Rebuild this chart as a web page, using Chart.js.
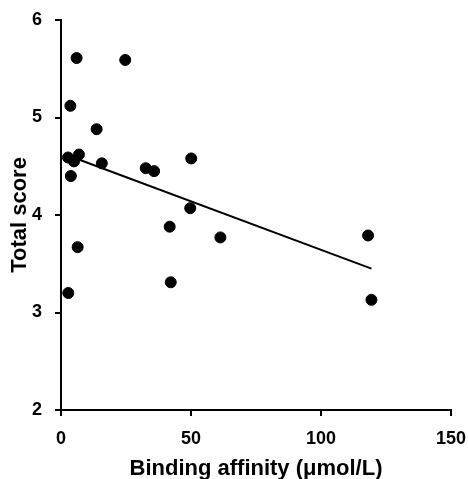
<!DOCTYPE html>
<html>
<head>
<meta charset="utf-8">
<script src="https://cdn.jsdelivr.net/npm/chart.js@4"></script>
<style>
  html, body { margin: 0; padding: 0; background: #fff; }
  #wrap { width: 468px; height: 479px; }
</style>
</head>
<body>
<div id="wrap"><canvas id="chart"></canvas></div>
<script>
// values
const affinity = [6.0, 24.7, 3.6, 13.7, 2.7, 5.0, 6.9, 3.8, 15.7, 32.6, 35.8, 6.4, 2.8, 50.1, 49.7, 41.8, 61.3, 42.2, 118.1, 119.4];
const totalScore = [5.61, 5.59, 5.12, 4.88, 4.59, 4.55, 4.62, 4.40, 4.53, 4.48, 4.45, 3.67, 3.20, 4.58, 4.07, 3.88, 3.77, 3.31, 3.79, 3.13];
// fitted line ends
const fitX = [2.7, 119.4];
const fitY = [4.61, 3.45];
const xTicks = [0, 50, 100, 150];
const yTicks = [2, 3, 4, 5, 6];

const points = affinity.map((x, i) => ({ x: x, y: totalScore[i] }));
const fitLine = fitX.map((x, i) => ({ x: x, y: fitY[i] }));

const font = "'Liberation Sans', Arial, sans-serif";

// tick marks outside the axes
const tickMarks = {
    id: 'tickMarks',
    afterDraw(chart) {
        const ctx = chart.ctx;
        const xs = chart.scales.x, ys = chart.scales.y;
        const len = 6;
        ctx.save();
        ctx.strokeStyle = '#000';
        ctx.lineWidth = 2;
        ctx.beginPath();
        xTicks.forEach(v => {
            const px = Math.round(xs.getPixelForValue(v));
            ctx.moveTo(px, xs.top);
            ctx.lineTo(px, xs.top + len);
        });
        yTicks.forEach(v => {
            const py = Math.round(ys.getPixelForValue(v));
            ctx.moveTo(ys.right, py);
            ctx.lineTo(ys.right - len, py);
        });
        ctx.stroke();
        ctx.restore();
    }
};

new Chart(document.getElementById('chart'), {
    type: 'scatter',
    data: {
        datasets: [{
            data: points,
            backgroundColor: '#000',
            borderColor: '#000',
            pointRadius: 5.5,
            pointHoverRadius: 5.5
        }, {
            type: 'line',
            data: fitLine,
            borderColor: '#000',
            borderWidth: 2,
            pointRadius: 0,
            fill: false
        }]
    },
    options: {
        responsive: true,
        maintainAspectRatio: false,
        animation: false,
        layout: { padding: { top: 20, right: 17, left: 0, bottom: 0 } },
        plugins: { legend: { display: false }, tooltip: { enabled: false } },
        scales: {
            x: {
                type: 'linear',
                min: 0, max: 150,
                afterBuildTicks: s => { s.ticks = xTicks.map(v => ({ value: v })); },
                afterFit: s => { s.height = 69; s.paddingLeft = 0; s.paddingRight = 0; },
                grid: { display: false },
                border: { display: true, color: '#000', width: 2 },
                ticks: { color: '#000', padding: 10, font: { family: font, size: 18, weight: 'bold' } },
                title: {
                    display: true,
                    text: 'Binding affinity (μmol/L)',
                    color: '#000',
                    padding: { top: 0, bottom: -3 },
                    font: { family: font, size: 22, weight: 'bold' }
                }
            },
            y: {
                min: 2, max: 6,
                afterBuildTicks: s => { s.ticks = yTicks.map(v => ({ value: v })); },
                afterFit: s => { s.width = 61; s.paddingTop = 0; s.paddingBottom = 0; },
                grid: { display: false },
                border: { display: true, color: '#000', width: 2 },
                ticks: { color: '#000', padding: 11, font: { family: font, size: 18, weight: 'bold' } },
                title: {
                    display: true,
                    text: 'Total score',
                    color: '#000',
                    padding: { top: 7, bottom: 0 },
                    font: { family: font, size: 22, weight: 'bold' }
                }
            }
        }
    },
    plugins: [tickMarks]
});
</script>
</body>
</html>
